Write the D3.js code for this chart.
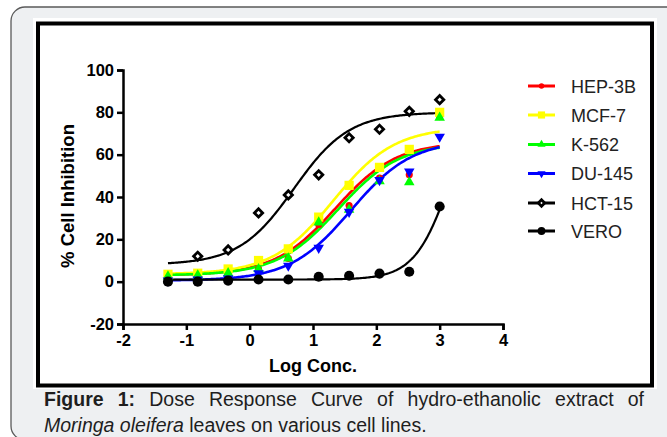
<!DOCTYPE html>
<html><head><meta charset="utf-8">
<script src="https://cdn.jsdelivr.net/npm/d3@7"></script>
<style>html,body{margin:0;padding:0;background:#fff;overflow:hidden} svg{display:block;font-family:Arial,"Liberation Sans",sans-serif;}</style>
</head><body><svg id="c" width="667" height="437"></svg>
<script>
// ---------- data ----------
const logConc = [-1.29, -0.82, -0.34, 0.14, 0.61, 1.09, 1.57, 2.05, 2.52, 3.0];
const seriesNames = ["HEP-3B", "MCF-7", "K-562", "DU-145", "HCT-15", "VERO"];
const hep3b = [2.5, 3, 4, 6, 11, 27, 36, 49, 50.5, 78];
const mcf7  = [3.5, 4, 6, 10, 15.5, 30.5, 45.5, 54, 62.5, 80];
const k562  = [2.5, 3, 4, 6, 11, 28, 34, 47.5, 47, 77.5];
const du145 = [0.5, 1, 1.5, 4, 7.5, 16, 33, 48, 52, 68.5];
const hct15 = [null, 12, 15, 32.5, 41, 50.5, 68, 72, 80.5, 86];
const vero  = [0, 0, 0.5, 1, 1, 2.3, 2.8, 3.8, 4.7, 35.5];
// fitted dose-response (4PL) parameters
const fitBottom  = [3, 3.5, 3, 0.5, 8, 1];
const fitTop     = [66, 73, 65.5, 67, 80, 100];
const fitLogEC50 = [1.35, 1.32, 1.4, 1.6, 0.7, 3.2];
const fitHill    = [0.9, 0.9, 0.9, 0.9, 1.0, 1.5];
const xTicks = [-2, -1, 0, 1, 2, 3, 4];
const yTicks = [-20, 0, 20, 40, 60, 80, 100];
const xTitle = "Log Conc.";
const yTitle = "% Cell Inhibition";

// ---------- styles ----------
const seriesValues = [hep3b, mcf7, k562, du145, hct15, vero];
const colors = ["#ff0000", "#ffff00", "#00ff00", "#0000ff", "#000000", "#000000"];

const svg = d3.select("#c");

// page frame
svg.append("rect").attr("x", 0).attr("y", 0).attr("width", 667).attr("height", 437).attr("fill", "#ffffff");
svg.append("rect").attr("x", 11).attr("y", 7).attr("width", 700).attr("height", 433).attr("rx", 14)
  .attr("fill", "#eef0f2").attr("stroke", "#5a5a5a").attr("stroke-width", 1.3);
svg.append("rect").attr("x", 33).attr("y", 18).attr("width", 624).attr("height", 371).attr("fill", "#ffffff");
svg.append("rect").attr("x", 38).attr("y", 23.5).attr("width", 614).attr("height", 362)
  .attr("fill", "none").attr("stroke", "#000").attr("stroke-width", 4);

// scales
const x = d3.scaleLinear().domain([-2, 4]).range([123, 503]);
const y = d3.scaleLinear().domain([-20, 100]).range([324, 70]);

// axes
const gx = svg.append("g").attr("transform", `translate(0,${y(-20)})`)
  .call(d3.axisBottom(x).tickValues(xTicks).tickSizeOuter(0).tickSize(6).tickPadding(4).tickFormat(d3.format("d")));
const gy = svg.append("g").attr("transform", `translate(${x(-2)},0)`)
  .call(d3.axisLeft(y).tickValues(yTicks).tickSizeOuter(0).tickSize(6).tickPadding(3).tickFormat(d3.format("d")));
[gx, gy].forEach(g => {
  g.select(".domain").attr("stroke", "#000").attr("stroke-width", 2.5);
  g.selectAll(".tick line").attr("stroke", "#000").attr("stroke-width", 2.5);
  g.selectAll(".tick text").attr("fill", "#000").attr("font-size", 16.5).attr("font-weight", "bold")
    .attr("font-family", "Arial, 'Liberation Sans', sans-serif");
});
gx.selectAll(".tick text").text(d => d < 0 ? "-" + Math.abs(d) : d);
gy.selectAll(".tick text").text(d => d < 0 ? "-" + Math.abs(d) : d);

svg.append("text").attr("x", x(1)).attr("y", 372).attr("text-anchor", "middle")
  .attr("font-size", 18).attr("font-weight", "bold").text(xTitle);
svg.append("text").attr("transform", `translate(74,${y(40) - 1}) rotate(-90)`).attr("text-anchor", "middle")
  .attr("font-size", 18.5).attr("font-weight", "bold").text(yTitle);

// fitted curves
const fit = (i, v) => fitBottom[i] + (fitTop[i] - fitBottom[i]) / (1 + Math.pow(10, (fitLogEC50[i] - v) * fitHill[i]));
const xs = d3.range(0, 201).map(k => logConc[0] + (logConc[logConc.length - 1] - logConc[0]) * k / 200);
const line = d3.line().x(d => x(d[0])).y(d => y(d[1])).curve(d3.curveLinear);
[0, 1, 2, 3, 4, 5].forEach(i => {
  svg.append("path").attr("d", line(xs.map(v => [v, fit(i, v)])))
    .attr("fill", "none").attr("stroke", colors[i]).attr("stroke-width", i >= 4 ? 2.2 : 2.6);
});

// markers
function marker(g, i, cx, cy, s) {
  if (i === 0) g.append("path").attr("d", d3.symbol(d3.symbolCircle, 40 * s)()).attr("transform", `translate(${cx},${cy})`).attr("fill", colors[i]);
  if (i === 1) g.append("path").attr("d", d3.symbol(d3.symbolSquare, 85 * s)()).attr("transform", `translate(${cx},${cy})`).attr("fill", colors[i]);
  if (i === 2) g.append("path").attr("d", d3.symbol(d3.symbolTriangle, 48 * s)()).attr("transform", `translate(${cx},${cy})`).attr("fill", colors[i]);
  if (i === 3) g.append("path").attr("d", d3.symbol(d3.symbolTriangle, 48 * s)()).attr("transform", `translate(${cx},${cy}) rotate(180)`).attr("fill", colors[i]);
  if (i === 4) g.append("path").attr("d", d3.symbol(d3.symbolSquare, 34 * s)()).attr("transform", `translate(${cx},${cy}) rotate(45)`).attr("fill", "#fff").attr("stroke", "#000").attr("stroke-width", 2.8);
  if (i === 5) g.append("path").attr("d", d3.symbol(d3.symbolCircle, 80 * s)()).attr("transform", `translate(${cx},${cy})`).attr("fill", "#000");
}
const gp = svg.append("g");
seriesValues.forEach((vals, i) => {
  vals.forEach((v, j) => { if (v !== null) marker(gp, i, x(logConc[j]), y(v), 1); });
});

// legend
const legendY = [86, 115, 144.5, 173.5, 203, 231];
const lg = svg.append("g");
seriesNames.forEach((name, i) => {
  lg.append("line").attr("x1", 528).attr("x2", 555).attr("y1", legendY[i]).attr("y2", legendY[i])
    .attr("stroke", colors[i]).attr("stroke-width", 3);
  marker(lg, i, 541.5, legendY[i], 0.6);
  lg.append("text").attr("x", 571).attr("y", legendY[i] + 6.5).attr("font-size", 18).attr("fill", "#222").text(name);
});

// caption
const cap1 = [
  {t: "Figure", b: 1}, {t: "1:", b: 1}, {t: "Dose"}, {t: "Response"}, {t: "Curve"}, {t: "of"},
  {t: "hydro-ethanolic"}, {t: "extract"}, {t: "of"}
];
const cg = svg.append("g").attr("fill", "#1e1e1e").attr("font-size", 19.5);
const nodes = cap1.map(w => cg.append("text").attr("y", 406).attr("font-weight", w.b ? "bold" : "normal").text(w.t));
const widths = nodes.map(n => n.node().getComputedTextLength());
const gap = (644 - 44 - d3.sum(widths)) / (cap1.length - 1);
let cx = 44;
nodes.forEach((n, k) => { n.attr("x", cx); cx += widths[k] + gap; });
const l2 = cg.append("text").attr("x", 44).attr("y", 432);
l2.append("tspan").attr("font-style", "italic").text("Moringa oleifera");
l2.append("tspan").text(" leaves on various cell lines.");
</script>
</body></html>
